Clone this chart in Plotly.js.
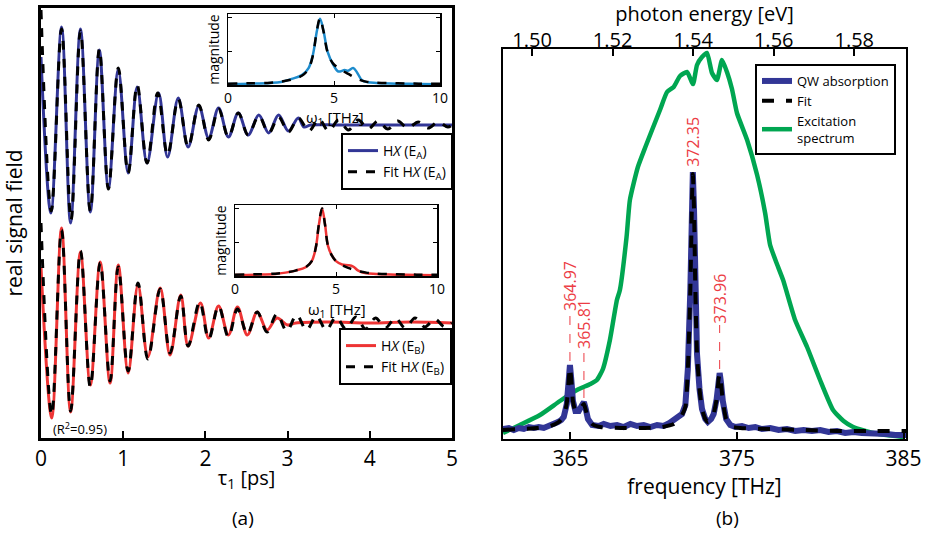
<!DOCTYPE html>
<html><head><meta charset="utf-8">
<script src="https://cdn.plot.ly/plotly-3.0.1.min.js"></script>
<style>html,body{margin:0;padding:0;background:#fff}#chart{width:927px;height:535px}</style>
</head><body><div id="chart"></div>
<script>
// ===== DATA =====
// Panel (a): real signal field vs tau1 [ps] (arbitrary units, extrema)
const tauA   = [0.00,0.12,0.25,0.36,0.48,0.60,0.71,0.82,0.94,1.06,1.17,1.29,1.43,1.54,1.67,1.79,1.92,2.04,2.16,2.28,2.40,2.52,2.65,2.77,2.89,3.01,3.13,3.20,3.28,3.60,4.00,4.40,4.80,5.00];
const sigA   = [68,-88,98,-98,96,-87,75,-63,55,-48,38,-38,32,-32,27,-22,19,-13,17,-12,12,-10,10,-8,10,-6,7,-2,0,0,0,0,0,0];
const tauFitA = [0.00,0.125,0.25,0.365,0.48,0.60,0.71,0.82,0.94,1.06,1.17,1.29,1.42,1.54,1.67,1.79,1.92,2.04,2.16,2.28,2.40,2.52,2.65,2.77,2.89,3.01,3.13,3.26,3.38,3.50,3.62,3.74,3.86,3.98,4.10,4.22,4.34,4.46,4.59,4.71,4.83,4.95,5.00];
const fitA    = [115,-86,96,-95,94,-86,76,-64,57,-48,40,-38,32,-30,26,-22,20,-15,16,-12,12,-10,9,-8,8,-7,7,-6,6,-6,5,-5,5,-4,4,-4,4,-3,3,-3,3,-2,0];
const tauB   = [0.00,0.13,0.25,0.36,0.48,0.60,0.72,0.84,0.94,1.06,1.18,1.30,1.45,1.57,1.70,1.79,1.94,2.04,2.16,2.28,2.39,2.51,2.63,2.75,2.87,3.00,3.10,3.50,4.00,4.50,5.00];
const sigB   = [56,-95,95,-89,71,-62,61,-60,58,-50,38,-34,35,-32,28,-23,20,-15,17,-12,16,-12,11,-7,5,-2,0,1,0,1,0];
const tauFitB = [0.00,0.13,0.25,0.36,0.48,0.60,0.72,0.84,0.94,1.06,1.18,1.30,1.45,1.57,1.70,1.79,1.93,2.04,2.16,2.28,2.39,2.51,2.63,2.75,2.87,2.99,3.11,3.23,3.35,3.47,3.59,3.71,3.83,3.95,4.07,4.19,4.31,4.43,4.55,4.67,4.79,4.91,5.00];
const fitB    = [100,-92,93,-88,72,-64,60,-58,56,-48,40,-36,34,-30,27,-23,21,-16,17,-14,14,-11,11,-9,9,-8,8,-7,7,-7,6,-6,6,-6,5,-5,5,-5,5,-4,4,-4,0];

// Insets: magnitude vs omega1 [THz]
const omegaA    = [0,1,2,2.5,3.0,3.5,3.8,4.0,4.2,4.34,4.5,4.7,4.95,5.2,5.5,5.66,5.9,6.08,6.32,6.6,7,8,9,10];
const specA     = [0.015,0.02,0.03,0.045,0.09,0.15,0.25,0.44,0.81,0.98,0.81,0.49,0.31,0.20,0.22,0.21,0.25,0.19,0.07,0.04,0.03,0.02,0.015,0.01];
const omegaFitA = [0,1,2,2.5,3.0,3.5,3.8,4.0,4.2,4.34,4.5,4.7,4.95,5.3,5.7,6.1,6.5,7,8,9,10];
const specFitA  = [0.02,0.025,0.035,0.05,0.08,0.14,0.24,0.43,0.82,0.99,0.80,0.48,0.32,0.23,0.16,0.09,0.05,0.035,0.025,0.02,0.02];
const omegaB    = [0,1,2,2.5,3.0,3.5,3.8,4.0,4.15,4.31,4.45,4.6,4.8,5.0,5.3,5.6,5.85,6.1,6.5,7,8,9,10];
const specB     = [0.015,0.02,0.03,0.05,0.08,0.13,0.22,0.42,0.75,1.0,0.78,0.45,0.30,0.22,0.17,0.16,0.14,0.08,0.04,0.03,0.02,0.015,0.01];
const omegaFitB = [0,1,2,2.5,3,3.5,3.8,4.0,4.15,4.31,4.45,4.6,4.8,5.0,5.3,5.6,6.0,6.5,7,8,9,10];
const specFitB  = [0.02,0.025,0.035,0.05,0.08,0.13,0.22,0.42,0.76,1.0,0.77,0.45,0.30,0.22,0.16,0.12,0.08,0.05,0.035,0.025,0.02,0.02];

// Panel (b): spectra vs frequency [THz] (arbitrary units)
const qwFreq = [360.95,361.3,361.6,361.9,362.2,362.5,362.8,363.1,363.4,363.7,364.0,364.25,364.45,364.6,364.78,364.9,364.97,365.05,365.15,365.3,365.5,365.7,365.81,365.92,366.05,366.3,366.7,367.0,367.4,367.8,368.2,368.6,369.0,369.4,369.8,370.2,370.6,370.95,371.25,371.5,371.7,371.9,372.05,372.2,372.3,372.35,372.42,372.5,372.6,372.75,372.9,373.1,373.25,373.45,373.6,373.78,373.9,373.96,374.03,374.15,374.35,374.6,374.9,375.3,375.7,376.1,376.5,377,377.5,378,378.5,379,379.5,380,380.5,381,381.5,382,382.5,383,383.5,384,384.5,385.15];
const qwAbs  = [10,11,9,11,10,12,11,12,11,13,14,17,19,22,35,60,74,60,38,28,28,34,37,30,20,14,13,15,13,14,12,15,13,14,12,14,13,16,19,22,25,34,70,150,240,267,230,150,85,50,30,20,17,20,25,40,60,66,58,38,20,14,12,13,11,12,10,11,9,10,8,9,8,9,7,8,6,7,6,6,5,5,4,4];
const fitFreq = [360.95,362,363,363.8,364.3,364.6,364.78,364.9,364.97,365.05,365.15,365.3,365.5,365.7,365.81,365.92,366.05,366.3,366.8,368,369.5,370.5,371.2,371.6,371.9,372.05,372.2,372.3,372.35,372.42,372.5,372.6,372.75,372.9,373.1,373.25,373.45,373.6,373.78,373.9,373.96,374.03,374.15,374.35,374.6,375.2,377,379,381,383,385.15];
const fitAbs  = [9,10,11,13,17,23,36,60,72,60,38,28,28,33,35,29,21,15,12,11,11,12,15,21,32,70,150,240,265,230,150,85,50,30,20,17,19,25,40,60,65,58,38,20,13,11,10,9,8,8,8];
const excFreq = [360.95,361.96,363.17,364.37,365.39,366.2,366.59,366.95,367.37,367.79,367.97,368.37,368.57,369.05,369.5,369.90,370.4,370.80,371.2,371.58,372.00,372.36,372.6,372.90,373.20,373.50,373.80,374.10,374.40,374.7,375.00,375.61,376.21,376.69,376.99,377.4,377.77,378.49,379.21,379.99,380.77,381.4,381.98,383.18,384.98];
const excSpec = [6,14,24,38,49,55,59,70,99,139,149,202,239,272,292,309,330,347,352,363,367,355,374,382,386,366,359,379,367,350,326,299,264,226,194,175,159,119,92,59,29,18,12,6,2];
const peakFreqs  = [364.97,365.81,372.35,373.96];
const peakLabels = ['364.97','365.81','372.35','373.96'];
const H_EV_PER_THZ = 0.004135667;

// ===== STYLE / LAYOUT =====
const W = 927, H = 535;
const px = x => x / W, py = y => 1 - y / H;
const FONT = 'Open Sans, Noto Sans, Arial, sans-serif';
const BLUE = 'rgb(50,54,150)', RED = 'rgb(238,52,52)', GREEN = 'rgb(0,166,81)', LBLUE = 'rgb(30,140,205)', LRED = 'rgb(236,60,68)';
const OFFSET_A = 313, OFFSET_B = 115;          // vertical offsets of the two traces in panel (a)
const LEADER_TOP = [127, 89, 271, 114];          // label base heights in panel (b)
const X_MIN = 360.95, X_MAX = 385.15;

const traces = [];
// panel (a)
traces.push({x:tauA, y:sigA.map(v=>v+OFFSET_A), xaxis:'x', yaxis:'y', mode:'lines', line:{color:BLUE,width:3,shape:'spline'}, name:'H<i>X</i> (E<sub>A</sub>)', legend:'legend2', hoverinfo:'skip'});
traces.push({x:tauFitA, y:fitA.map(v=>v+OFFSET_A), xaxis:'x', yaxis:'y', mode:'lines', line:{color:'#000',width:3,dash:'dash',shape:'spline'}, name:'Fit H<i>X</i> (E<sub>A</sub>)', legend:'legend2', hoverinfo:'skip'});
traces.push({x:tauB, y:sigB.map(v=>v+OFFSET_B), xaxis:'x', yaxis:'y', mode:'lines', line:{color:RED,width:3,shape:'spline'}, name:'H<i>X</i> (E<sub>B</sub>)', legend:'legend3', hoverinfo:'skip'});
traces.push({x:tauFitB, y:fitB.map(v=>v+OFFSET_B), xaxis:'x', yaxis:'y', mode:'lines', line:{color:'#000',width:3,dash:'dash',shape:'spline'}, name:'Fit H<i>X</i> (E<sub>B</sub>)', legend:'legend3', hoverinfo:'skip'});
// insets
traces.push({x:omegaA, y:specA, xaxis:'x2', yaxis:'y2', mode:'lines', line:{color:LBLUE,width:2.5,shape:'spline'}, showlegend:false, hoverinfo:'skip'});
traces.push({x:omegaFitA, y:specFitA, xaxis:'x2', yaxis:'y2', mode:'lines', line:{color:'#000',width:2.5,dash:'dash',shape:'spline'}, showlegend:false, hoverinfo:'skip'});
traces.push({x:omegaB, y:specB, xaxis:'x3', yaxis:'y3', mode:'lines', line:{color:RED,width:2.5,shape:'spline'}, showlegend:false, hoverinfo:'skip'});
traces.push({x:omegaFitB, y:specFitB, xaxis:'x3', yaxis:'y3', mode:'lines', line:{color:'#000',width:2.5,dash:'dash',shape:'spline'}, showlegend:false, hoverinfo:'skip'});
// panel (b)
traces.push({x:excFreq, y:excSpec, xaxis:'x4', yaxis:'y4', mode:'lines', line:{color:GREEN,width:4.5,shape:'spline',smoothing:0.5}, name:'Excitation<br>spectrum', legendrank:3, hoverinfo:'skip'});
traces.push({x:qwFreq, y:qwAbs, xaxis:'x4', yaxis:'y4', mode:'lines', line:{color:BLUE,width:6}, name:'QW absorption', legendrank:1, hoverinfo:'skip'});
traces.push({x:fitFreq, y:fitAbs, xaxis:'x4', yaxis:'y4', mode:'lines', line:{color:'#000',width:4,dash:'dash',shape:'spline',smoothing:0.6}, name:'Fit', legendrank:2, hoverinfo:'skip'});
// leader lines for the peak labels
const lx = [], ly = [];
peakFreqs.forEach((f,i) => {
  const k = qwFreq.indexOf(f);
  lx.push(f, f, null); ly.push(qwAbs[k] + 4, LEADER_TOP[i], null);
});
traces.push({x:lx, y:ly, xaxis:'x4', yaxis:'y4', mode:'lines', line:{color:LRED,width:1,dash:'dash'}, showlegend:false, hoverinfo:'skip'});
// photon-energy (top) axis
traces.push({x:[X_MIN*H_EV_PER_THZ, X_MAX*H_EV_PER_THZ], y:[0,0], xaxis:'x5', yaxis:'y4', mode:'lines', line:{width:0,color:'rgba(0,0,0,0)'}, showlegend:false, hoverinfo:'skip'});

const ax = (o) => Object.assign({showgrid:false, zeroline:false, showline:true, linecolor:'#000', color:'#000', fixedrange:true}, o);
const insetX = (dom, anchor) => ax({domain:dom, range:[0,10], anchor:anchor, linewidth:1.5, mirror:'ticks', ticks:'inside', ticklen:4, tickvals:[0,5,10], tickfont:{size:14}});
const insetY = (dom, anchor) => ax({domain:dom, range:[0,1.05], anchor:anchor, linewidth:1.5, mirror:'ticks', ticks:'inside', ticklen:4, tickvals:[0,0.5,1], showticklabels:false,
             title:{text:'magnitude', font:{size:14}, standoff:3}});
const legendBox = (x, y, size) => ({x:x, y:y, xanchor:'left', yanchor:'top', bgcolor:'#fff', bordercolor:'#000', borderwidth:2, font:{size:size}, itemwidth:30, tracegroupgap:0});

const layout = {
  width:W, height:H, margin:{l:0,r:0,t:0,b:0, autoexpand:false},
  paper_bgcolor:'#fff', plot_bgcolor:'rgba(0,0,0,0)',
  font:{family:FONT, color:'#000'},
  showlegend:true,
  xaxis: ax({domain:[px(41),px(452)], range:[0,5], anchor:'y', linewidth:3, mirror:true, ticks:'inside', ticklen:7, tickwidth:2, tickvals:[0,1,2,3,4,5], tickfont:{size:21},
             title:{text:'τ<sub>1</sub> [ps]', font:{size:20}, standoff:0}}),
  yaxis: ax({domain:[py(438),py(8)], range:[0,430], anchor:'x', linewidth:3, mirror:true, ticks:'', showticklabels:false,
             title:{text:'real signal field', font:{size:21}, standoff:12}}),
  xaxis2: insetX([px(228),px(440)], 'y2'),
  yaxis2: insetY([py(85),py(14)], 'x2'),
  xaxis3: insetX([px(235),px(437)], 'y3'),
  yaxis3: insetY([py(276),py(205)], 'x3'),
  xaxis4: ax({domain:[px(503),px(906)], range:[X_MIN,X_MAX], anchor:'y4', linewidth:2, mirror:true, ticks:'inside', ticklen:7, tickwidth:2, tickvals:[365,375,385], tickfont:{size:21},
             title:{text:'frequency [THz]', font:{size:21}, standoff:0}}),
  yaxis4: ax({domain:[py(439),py(49)], range:[0,390], anchor:'x4', linewidth:2, mirror:true, ticks:'', showticklabels:false}),
  xaxis5: ax({overlaying:'x4', anchor:'y4', side:'top', range:[X_MIN*H_EV_PER_THZ, X_MAX*H_EV_PER_THZ], showline:false, ticks:'inside', ticklen:7, tickwidth:2,
             tickvals:[1.50,1.52,1.54,1.56,1.58], tickformat:'.2f', tickfont:{size:20}, ticklabelstandoff:-3,
             title:{text:'photon energy [eV]', font:{size:20}, standoff:7}}),
  legend:  Object.assign(legendBox(px(896), py(64), 13), {xanchor:'right'}),
  legend2: legendBox(px(341), py(133), 14),
  legend3: legendBox(px(339), py(328), 14),
  annotations: [
    {xref:'paper', yref:'paper', x:px(243), y:py(518), xanchor:'center', yanchor:'middle', text:'(a)', showarrow:false, font:{size:19}},
    {xref:'paper', yref:'paper', x:px(727), y:py(518), xanchor:'center', yanchor:'middle', text:'(b)', showarrow:false, font:{size:19}},
    {xref:'paper', yref:'paper', x:px(51), y:py(428), xanchor:'left', yanchor:'middle', text:'(R<sup>2</sup>=0.95)', showarrow:false, font:{size:13}},
    {xref:'paper', yref:'paper', x:px(335), y:py(118), xanchor:'center', yanchor:'middle', text:'ω<sub>1</sub> [THz]', showarrow:false, font:{size:15}},
    {xref:'paper', yref:'paper', x:px(337), y:py(310), xanchor:'center', yanchor:'middle', text:'ω<sub>1</sub> [THz]', showarrow:false, font:{size:15}}
  ].concat(peakFreqs.map((f,i) => ({xref:'x4', yref:'y4', x:f, y:LEADER_TOP[i], text:peakLabels[i], textangle:-90,
      xanchor:'center', yanchor:'bottom', showarrow:false, font:{size:16, color:LRED}, borderpad:0})))
};

Plotly.newPlot('chart', traces, layout, {staticPlot:true, displayModeBar:false});
</script>
</body></html>
